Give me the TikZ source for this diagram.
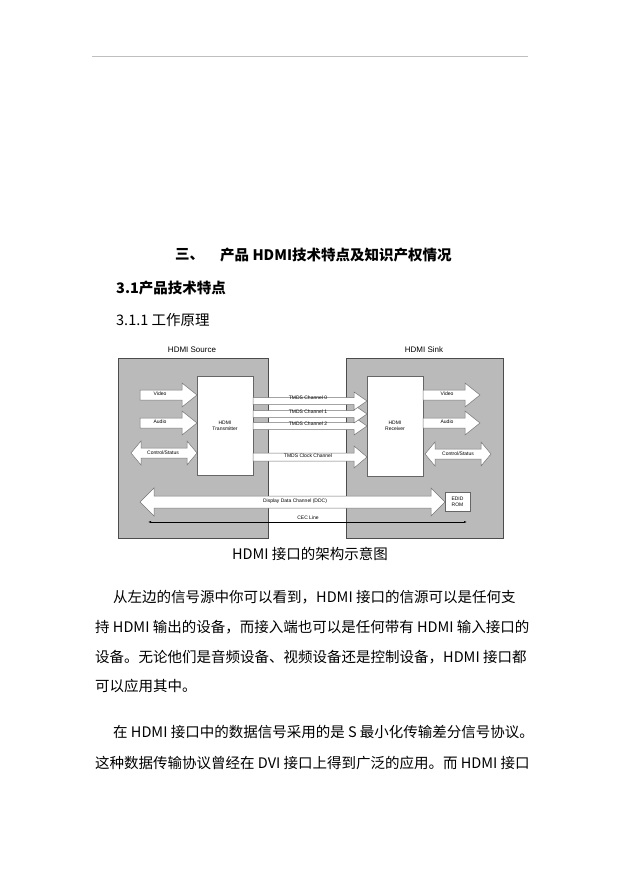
\documentclass[tikz,border=0pt]{standalone}
\usepackage{fontspec}
\setmainfont{Noto Sans CJK SC}
\newfontfamily\arialfont{Liberation Sans}
\usetikzlibrary{positioning, arrows.meta}

\tikzset{
  unitbox/.style={draw=black!70, fill=black!27, line width=0.8pt},
  chipbox/.style={draw=black!60, fill=white, line width=0.6pt},
  fatarrow/.style={draw=black!55, fill=white, line width=0.5pt},
  tinylabel/.style={font=\arialfont\fontsize{5}{6}\selectfont, inner sep=0.5pt},
  headlabel/.style={font=\arialfont\fontsize{8}{9}\selectfont},
  bodytext/.style={font=\fontsize{14.5}{16}\selectfont, anchor=west, inner sep=0pt},
}

% single fat arrow: x1, x2, y, shaft half, head half, head length
\newcommand{\rarrow}[6]{%
  \draw[fatarrow] ({#1},{#3-#4}) -- ({#2-#6},{#3-#4}) -- ({#2-#6},{#3-#5}) -- ({#2},{#3})
    -- ({#2-#6},{#3+#5}) -- ({#2-#6},{#3+#4}) -- ({#1},{#3+#4}) -- cycle;}
% double fat arrow
\newcommand{\darrow}[6]{%
  \draw[fatarrow] ({#1+#6},{#3-#4}) -- ({#2-#6},{#3-#4}) -- ({#2-#6},{#3-#5}) -- ({#2},{#3})
    -- ({#2-#6},{#3+#5}) -- ({#2-#6},{#3+#4}) -- ({#1+#6},{#3+#4}) -- ({#1+#6},{#3+#5})
    -- ({#1},{#3}) -- ({#1+#6},{#3-#5}) -- cycle;}

\begin{document}
\begin{tikzpicture}[x=1pt, y=-1pt]

  \useasboundingbox[fill=white] (0,0) rectangle (621,877);

  % header rule
  \draw[black!25, line width=0.8pt] (92,56) -- (528,56);

  % headings
  \node[font=\bfseries\fontsize{14.5}{16}\selectfont, anchor=west, inner sep=0pt] (sec) at (175,255) {三、};
  \node[font=\bfseries\fontsize{14.5}{16}\selectfont, anchor=west, inner sep=0pt] (title) at (220,255) {产品 HDMI技术特点及知识产权情况};
  \node[font=\bfseries\fontsize{14.5}{16}\selectfont, anchor=west, inner sep=0pt] (sub) at (116,288) {3.1产品技术特点};
  \node[bodytext] (subsub) at (116,320) {3.1.1 工作原理};

  % source and sink units
  \draw[unitbox] (118,358) rectangle (268,538);
  \draw[unitbox] (346,358) rectangle (503,538);
  \node[headlabel] (srclabel) at (192,350) {HDMI Source};
  \node[headlabel] (sinklabel) at (424,350) {HDMI Sink};

  % transmitter and receiver
  \node[chipbox, minimum width=56pt, minimum height=99pt, align=center, tinylabel] (tx) at (225,425.5) {HDMI\\Transmitter};
  \node[chipbox, minimum width=56pt, minimum height=100pt, align=center, tinylabel] (rx) at (395,426) {HDMI\\Receiver};

  % source side streams
  \rarrow{140}{197}{395}{5}{12}{15}
  \node[tinylabel] (vin) at (160,394) {Video};
  \rarrow{140}{197}{423}{5}{12}{15}
  \node[tinylabel] (ain) at (160,422) {Audio};
  \darrow{131}{197}{453}{5}{12}{10}
  \node[tinylabel] (cin) at (163,453) {Control/Status};

  % TMDS channels
  \rarrow{253}{367}{457}{4}{11}{13}
  \rarrow{253}{367}{426}{3.5}{9}{13}
  \rarrow{253}{367}{414}{3.5}{9}{13}
  \rarrow{253}{367}{401}{3.5}{9}{13}
  \node[tinylabel] (ch0) at (308,398) {TMDS Channel 0};
  \node[tinylabel] (ch1) at (308,411.5) {TMDS Channel 1};
  \node[tinylabel] (ch2) at (308,424) {TMDS Channel 2};
  \node[tinylabel] (clk) at (308,456) {TMDS Clock Channel};

  % sink side streams
  \rarrow{423}{480}{395}{5}{12}{15}
  \node[tinylabel] (vout) at (447,394) {Video};
  \rarrow{423}{480}{423}{5}{12}{15}
  \node[tinylabel] (aout) at (447,422) {Audio};
  \darrow{425}{491}{454}{5}{12}{10}
  \node[tinylabel] (cout) at (458,454) {Control/Status};

  % DDC and EDID
  \node[chipbox, minimum width=25pt, minimum height=19pt, align=center, tinylabel] (edid) at (457.5,501.5) {EDID\\ROM};
  \darrow{140}{445}{502}{6}{14}{14}
  \node[tinylabel] (ddc) at (295,501) {Display Data Channel (DDC)};

  % CEC line
  \coordinate (cecl) at (148,522);
  \coordinate (cecr) at (467,522);
  \draw[black, line width=0.5pt, {Latex[length=3pt,width=2pt]}-{Latex[length=3pt,width=2pt]}] (cecl) -- (cecr);
  \node[tinylabel, above=2pt] (cec) at (308,522) {CEC Line};

  % caption
  \node[font=\fontsize{14.5}{16}\selectfont, inner sep=0pt] (cap) at (310,554) {HDMI 接口的架构示意图};

  % body text
  \node[bodytext] (l1) at (113,597) {从左边的信号源中你可以看到，HDMI 接口的信源可以是任何支};
  \node[bodytext] (l2) at (95,627) {持 HDMI 输出的设备，而接入端也可以是任何带有 HDMI 输入接口的};
  \node[bodytext] (l3) at (95,657) {设备。无论他们是音频设备、视频设备还是控制设备，HDMI 接口都};
  \node[bodytext] (l4) at (95,686) {可以应用其中。};
  \node[bodytext] (l5) at (113,732) {在 HDMI 接口中的数据信号采用的是 S 最小化传输差分信号协议。};
  \node[bodytext] (l6) at (95,763) {这种数据传输协议曾经在 DVI 接口上得到广泛的应用。而 HDMI 接口};

\end{tikzpicture}
\end{document}
